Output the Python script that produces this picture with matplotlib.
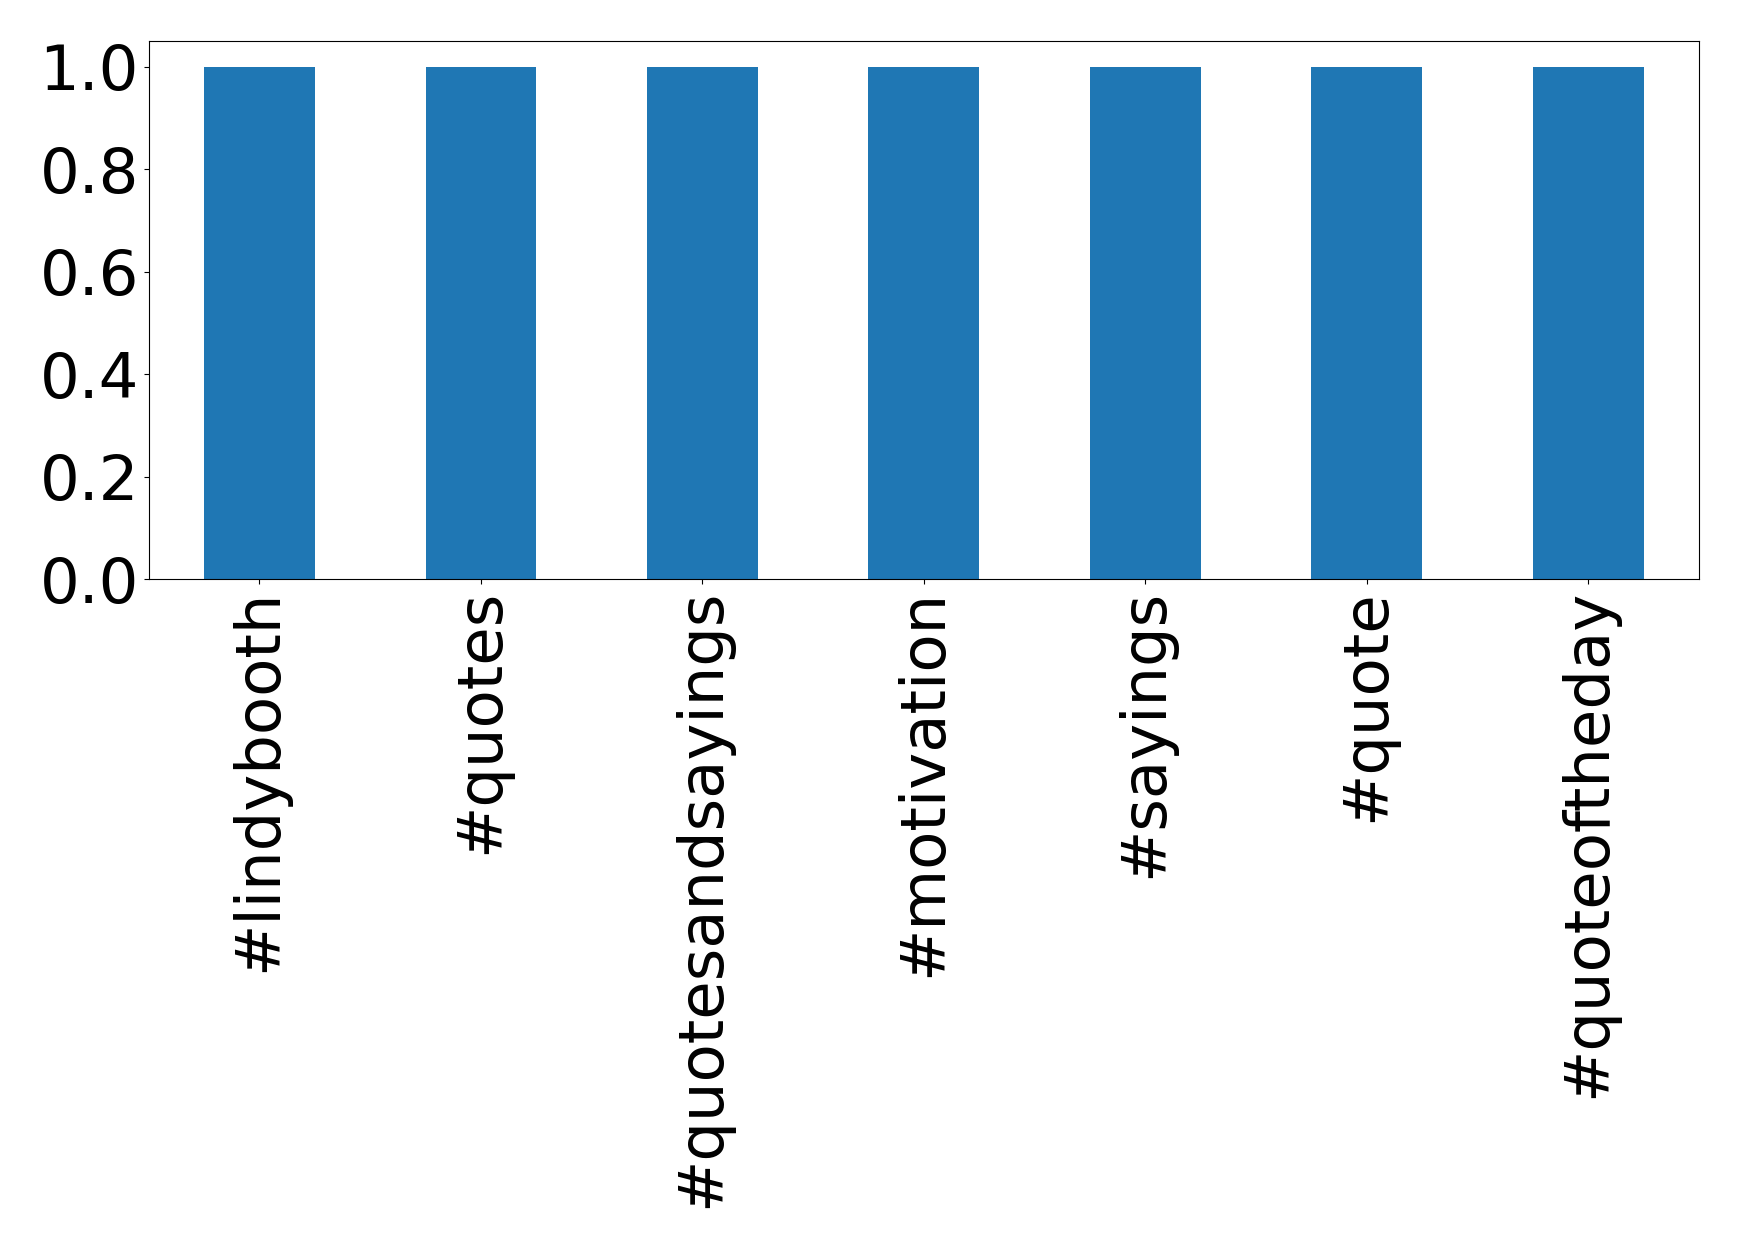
import matplotlib
matplotlib.use("Agg")
import matplotlib.pyplot as plt

# hashtag counts
tags = ['#lindybooth', '#quotes', '#quotesandsayings', '#motivation',
        '#sayings', '#quote', '#quoteoftheday']
counts = [1, 1, 1, 1, 1, 1, 1]
yticks = [0.0, 0.2, 0.4, 0.6, 0.8, 1.0]

fig, ax = plt.subplots(figsize=(17.39, 12.48), dpi=100)
x = range(len(tags))
ax.bar(x, counts, width=0.5, color='#1f77b4')
ax.set_xlim(-0.5, len(tags) - 0.5)
ax.set_ylim(0, 1.05)
ax.set_yticks(yticks)
ax.set_xticks(list(x))
ax.set_xticklabels(tags, rotation=90, fontsize=45)
ax.tick_params(axis='y', labelsize=45)

plt.subplots_adjust(left=0.0855, right=0.977, top=0.967, bottom=0.536)
plt.savefig('out.png', dpi=100)
